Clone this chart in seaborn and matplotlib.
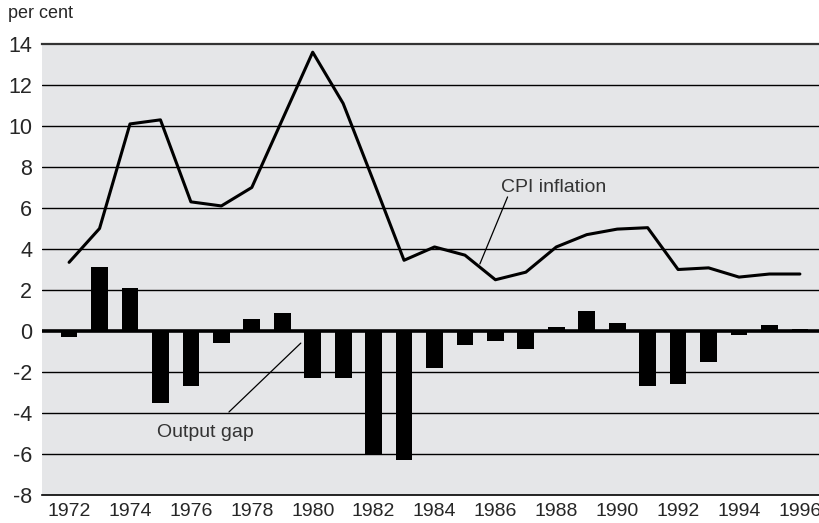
import numpy as np
import pandas as pd
import matplotlib
matplotlib.use("Agg")
import matplotlib.pyplot as plt
import seaborn as sns

# Data
years = list(range(1972, 1997))
cpi_inflation = [3.35, 5.0, 10.1, 10.3, 6.3, 6.1, 7.0, 10.3, 13.6, 11.1, 7.3, 3.45,
                 4.1, 3.7, 2.5, 2.87, 4.1, 4.7, 4.97, 5.04, 3.0, 3.08, 2.63, 2.78, 2.78]
output_gap = [-0.3, 3.1, 2.1, -3.5, -2.7, -0.6, 0.6, 0.9, -2.3, -2.3, -6.0, -6.3,
              -1.8, -0.7, -0.5, -0.9, 0.2, 1.0, 0.4, -2.7, -2.6, -1.5, -0.2, 0.3, 0.1]
y_ticks = list(range(-8, 15, 2))
x_labels = list(range(1972, 1997, 2))

df = pd.DataFrame({"year": years, "cpi": cpi_inflation, "gap": output_gap})

sns.set_style("white")
plt.rcParams["font.family"] = ["Liberation Sans", "DejaVu Sans"]
plt.rcParams["axes.unicode_minus"] = False

fig = plt.figure(figsize=(8.2, 5.23), dpi=100)
ax = fig.add_axes([0.0512, 0.0535, 0.9488, 0.8624])
ax.set_facecolor("#e5e6e8")

# horizontal grid lines
for v in y_ticks[1:-1]:
    ax.axhline(v, color="black", lw=1.0 if v != 0 else 2.6, zorder=1)

sns.barplot(data=df, x="year", y="gap", native_scale=True, width=0.55,
            color="black", saturation=1, edgecolor="black", linewidth=0,
            ax=ax, zorder=2)
sns.lineplot(data=df, x="year", y="cpi", color="black", lw=2.2, ax=ax, zorder=3)

ax.set_xlim(1971.11, 1996.66)
ax.set_ylim(-8, 14)
ax.set_yticks(y_ticks)
ax.set_xticks(x_labels)
ax.set_xticks(years, minor=True)
ax.set_xlabel("")
ax.set_ylabel("")

for s in ["left", "right"]:
    ax.spines[s].set_visible(False)
ax.spines["top"].set_color("#333333")
ax.spines["top"].set_linewidth(1.6)
ax.spines["bottom"].set_color("black")
ax.spines["bottom"].set_linewidth(1.2)

ax.tick_params(axis="y", length=0, pad=7, labelsize=15.5)
ax.tick_params(axis="x", which="both", direction="out", length=4, width=1,
               color="black", labelsize=14, pad=2)

fig.text(8 / 820, 1 - 14 / 523, "per cent", fontsize=13, ha="left", va="center")

# annotations
ax.plot([1985.49, 1986.4], [3.27, 6.54], color="black", lw=0.9, zorder=4)
ax.text(1986.2, 7.0, "CPI inflation", fontsize=14, color="#333333",
        ha="left", va="center")
ax.plot([1977.25, 1979.61], [-3.95, -0.59], color="black", lw=0.9, zorder=4)
ax.text(1974.885, -4.93, "Output gap", fontsize=14, color="#333333",
        ha="left", va="center")

fig.savefig("out.png", dpi=100)
